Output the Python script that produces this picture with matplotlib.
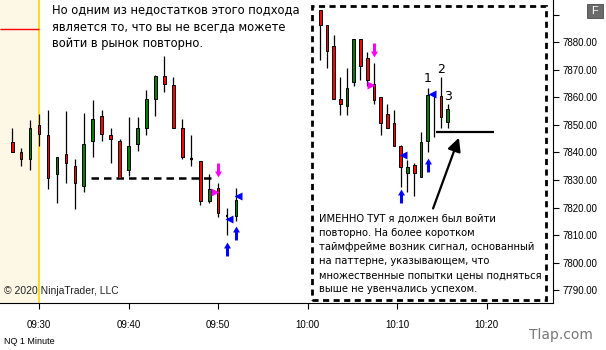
import matplotlib
matplotlib.use("Agg")
import matplotlib.pyplot as plt
from matplotlib.patches import Rectangle
from matplotlib.path import Path

# ---- data: 1-minute bars, minutes after 09:30 ----
bar_min = [-3, -2, -1, 0, 1, 2, 3, 4, 5, 6, 7, 8, 9, 10, 11, 12, 13, 14, 15, 16, 17, 18, 19, 20, 21, 22]
bar_open = [7843.75, 7840, 7837.75, 7850, 7846.25, 7832.25, 7839.5, 7835.25, 7827.75, 7844, 7853.25, 7846.25, 7844,
            7833.75, 7843.25, 7848.75, 7859.25, 7867.75, 7864.5, 7849, 7837.75, 7837, 7822.5, 7827, 7817, 7817]
bar_high = [7849, 7841.75, 7851.75, 7854, 7855.5, 7838.25, 7855, 7837.5, 7854.5, 7859, 7855.5, 7849, 7845,
            7853, 7853, 7862.75, 7868, 7875, 7867.25, 7852, 7846.25, 7837, 7832, 7828.75, 7819.75, 7827]
bar_low = [7840, 7835.25, 7833.75, 7842.25, 7826.75, 7821.75, 7829, 7819.5, 7825.75, 7838.5, 7844, 7836.25, 7830.75,
           7831.5, 7840.5, 7846.5, 7853.25, 7862, 7848.75, 7837.5, 7835.25, 7821, 7821.5, 7816.5, 7810, 7815.25]
bar_close = [7840, 7837.75, 7848.75, 7846.75, 7830.75, 7838.25, 7836, 7829, 7843.25, 7852, 7846.75, 7844.75, 7830.75,
             7842.25, 7848.75, 7859.5, 7867.75, 7865, 7848.75, 7838.25, 7837.75, 7822.5, 7826.75, 7818, 7817, 7822.75]

# ---- inset: lower timeframe bars pasted into the chart ----
ins_t0, ins_dt = 31.4, 0.75
ins_open = [7891.75, 7886.25, 7878.75, 7859.5, 7857, 7865.75, 7881.25, 7874.25, 7865, 7860.25,
            7854, 7850.75, 7842.5, 7832.5, 7835.5, 7831.25, 7844, 7861.25, 7860.5, 7851]
ins_high = [7891.75, 7886.25, 7882.75, 7867.5, 7870.75, 7881.25, 7881.25, 7876.5, 7872.5, 7860.25,
            7857.75, 7855.5, 7842.75, 7837.25, 7836, 7847.5, 7863.5, 7861.5, 7867.5, 7857.5]
ins_low = [7873.5, 7870.75, 7859.5, 7853.5, 7853.5, 7864, 7866.25, 7864, 7857.75, 7846.25,
           7848.75, 7842.5, 7827.5, 7825.75, 7824, 7831.25, 7840, 7845.75, 7848.75, 7848.75]
ins_close = [7886.25, 7877, 7859.5, 7857.75, 7863.25, 7881.25, 7871.5, 7866.5, 7859, 7850.75,
             7848.75, 7842.5, 7834.75, 7834.75, 7832.5, 7843.75, 7860.75, 7861.25, 7853, 7855.75]

xtick_min = [0, 10, 20, 30, 40, 50]
xtick_lab = ["09:30", "09:40", "09:50", "10:00", "10:10", "10:20"]
ytick_val = [7790, 7800, 7810, 7820, 7830, 7840, 7850, 7860, 7870, 7880, 7890]

# signal markers (time, price)
down_mag = [(20, 7833.6), (37.4, 7877.2)]
right_mag = [(19.7, 7825.7), (37.1, 7864.5)]
left_blue = [(21.25, 7815.7), (22.2, 7824.1), (40.7, 7839.0), (43.9, 7861.1)]
up_blue = [(21, 7805.1), (22, 7810.6), (40.4, 7824.0), (43.4, 7835.4)]

RED, GREEN = "#ff0000", "#008000"

plt.rcParams["font.family"] = ["Liberation Sans", "DejaVu Sans"]
fig = plt.figure(figsize=(6.06, 3.5), dpi=100)
ax = fig.add_axes([0, 1 - 303 / 350, 553 / 606, 303 / 350])
ax.set_xlim(-4.36, 57.4)
ax.set_ylim(7785.3, 7895.4)


def candles(ts, o, h, l, c, w=0.3):
    for t, oo, hh, ll, cc in zip(ts, o, h, l, c):
        ax.vlines(t, ll, hh, color="black", lw=0.9, zorder=2)
        if oo == cc:
            ax.hlines(cc, t - w / 2, t + w / 2, color="black", lw=1.6, zorder=3)
            continue
        col = GREEN if cc > oo else RED
        ax.add_patch(Rectangle((t - w / 2, min(oo, cc)), w, abs(cc - oo), facecolor=col,
                               edgecolor="black", lw=0.7, zorder=3))


# pre-market shading
ax.axvspan(-4.36, 0, color="#fdf8e6", zorder=0)
ax.axvline(0, color="#ffd700", lw=1.2, zorder=1)
ax.hlines(7884.8, -4.36, 0, color="#ff0000", lw=1, zorder=1)

candles(bar_min, bar_open, bar_high, bar_low, bar_close)
ax.hlines(7830.8, 5.8, 19.2, colors="black", lw=1.8, linestyles=(0, (3, 2)), zorder=2)

ins_t = [ins_t0 + ins_dt * i for i in range(len(ins_open))]
candles(ins_t, ins_open, ins_high, ins_low, ins_close)

# arrow markers
up_path = Path([(-0.5, 0.15), (0, 1), (0.5, 0.15), (0.22, 0.15), (0.22, -1), (-0.22, -1), (-0.22, 0.15), (-0.5, 0.15)],
               [Path.MOVETO] + [Path.LINETO] * 6 + [Path.CLOSEPOLY])
down_path = Path([(x, -y) for x, y in up_path.vertices], up_path.codes)
for t, p in up_blue:
    ax.plot(t, p, marker=up_path, ms=10, color="#0000ff", mec="none", zorder=4)
for t, p in down_mag:
    ax.plot(t, p, marker=down_path, ms=10, color="#ff00ff", mec="none", zorder=4)
for t, p in left_blue:
    ax.plot(t, p, marker="<", ms=5.5, color="#0000ff", mec="none", zorder=4)
for t, p in right_mag:
    ax.plot(t, p, marker=">", ms=5.5, color="#ff00ff", mec="none", zorder=4)

# inset annotations
ax.add_patch(Rectangle((30.5, 7786.3), 26.15, 107.0, fill=False, edgecolor="black", lw=2,
                       linestyle=(0, (2.2, 1.6)), zorder=5))
for lab, t, p in [("1", 43.4, 7866.7), ("2", 44.9, 7870.3), ("3", 45.7, 7860.5)]:
    ax.text(t, p, lab, ha="center", va="center", fontsize=9, family="DejaVu Sans", zorder=5)
ax.hlines(7847.5, 44.36, 50.76, color="black", lw=1.6, zorder=5)
ax.annotate("", xy=(47.0, 7846.3), xytext=(43.9, 7818.7),
            arrowprops=dict(arrowstyle="-|>", lw=1.6, color="black", mutation_scale=20), zorder=5)

ax.text(1.45, 7894.3, "Но одним из недостатков этого подхода\nявляется то, что вы не всегда можете\n"
        "войти в рынок повторно.", ha="left", va="top", fontsize=8.3, linespacing=1.4,
        family="DejaVu Sans", zorder=5)
ax.text(31.3, 7817.8, "ИМЕННО ТУТ я должен был войти\nповторно. На более коротком\n"
        "таймфрейме возник сигнал, основанный\nна паттерне, указывающем, что\n"
        "множественные попытки цены подняться\nвыше не увенчались успехом.",
        ha="left", va="top", fontsize=7.2, linespacing=1.52, family="DejaVu Sans", zorder=5)
ax.text(-3.9, 7789.5, "© 2020 NinjaTrader, LLC", fontsize=7.5, va="center", ha="left", color="#222222")

# axes styling
for s in ["left", "top"]:
    ax.spines[s].set_visible(False)
ax.yaxis.tick_right()
ax.set_xticks(xtick_min)
ax.set_xticklabels(xtick_lab)
ax.set_yticks(ytick_val)
ax.set_yticklabels([f"{v:.2f}" if v < 7890 else "" for v in ytick_val])
ax.tick_params(axis="both", length=4, width=0.8, labelsize=7, pad=8)
ax.tick_params(axis="y", pad=3)

fig.text(4 / 606, 1 - 341 / 350, "NQ 1 Minute", fontsize=6.5, va="center", ha="left")
fig.text(593 / 606, 1 - 335 / 350, "Tlap.com", fontsize=10, va="center", ha="right",
         color="#777777", family="DejaVu Sans")
fig.patches.append(Rectangle((587 / 606, 1 - 18 / 350), 16 / 606, 14 / 350, transform=fig.transFigure,
                             facecolor="#6a6a6a", edgecolor="#4a4a4a", lw=0.6))
fig.text(595 / 606, 1 - 11 / 350, "F", color="white", fontsize=8, ha="center", va="center")

fig.savefig("out.png", dpi=100)
